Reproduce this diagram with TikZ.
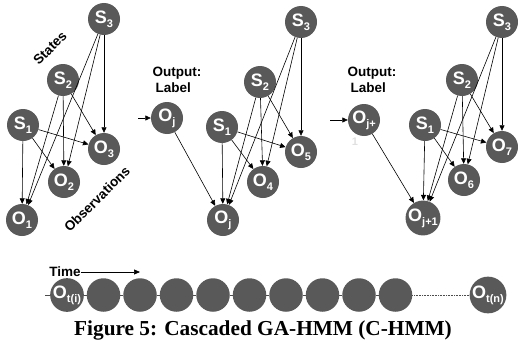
\documentclass[tikz,border=0pt]{standalone}
\usepackage{fontspec}
\setmainfont{Liberation Serif}
\newfontfamily\arialf{Liberation Sans}
\usetikzlibrary{arrows.meta}
\definecolor{nodegray}{HTML}{595959}
\newcommand\lsub[1]{\raisebox{-0.4ex}{\fontsize{11}{11}\selectfont #1}}
\begin{document}
\begin{tikzpicture}[x=1pt,y=-1pt,
  st/.style={circle,fill=nodegray,minimum size=32pt,inner sep=0pt,text=white,
     font=\arialf\bfseries\fontsize{18}{18}\selectfont},
  tn/.style={st,minimum size=33.5pt},
  edge/.style={-{Triangle[length=5.5pt,width=5pt]},line width=0.6pt,black},
  lbl/.style={font=\arialf\bfseries\fontsize{13.5}{16}\selectfont,inner sep=0pt},
  tl/.style={line width=0.6pt,black!70},
]
\useasboundingbox (0,0) rectangle (518,345);

% ---------- left group ----------
\node[st] (S3a) at (104,19) {S\lsub{3}};
\node[st] (S2a) at (63,80) {S\lsub{2}};
\node[st] (S1a) at (23,125) {S\lsub{1}};
\node[st] (O3) at (104,149) {O\lsub{3}};
\node[st] (O2) at (64,182) {O\lsub{2}};
\node[st] (O1) at (22,220) {O\lsub{1}};
\foreach \s in {S1a,S2a,S3a}{\foreach \o in {O1,O2,O3}{\draw[edge] (\s) -- (\o);}}
\node[lbl,rotate=45] (states) at (50,48) {States};
\node[lbl,rotate=45] (obs) at (97,199) {Observations};

% ---------- middle group ----------
\node[lbl,align=left] (out1) at (177,80) {Output:\\\hspace*{3pt}Label};
\node[st] (Ojt) at (167,118) {O\lsub{j}};
\coordinate (in1) at (138,118);
\draw[edge] (in1) -- (Ojt);
\node[st] (S1b) at (222,127) {S\lsub{1}};
\node[st] (S2b) at (260,82) {S\lsub{2}};
\node[st] (S3b) at (301,22) {S\lsub{3}};
\node[st] (O5) at (301,152) {O\lsub{5}};
\node[st] (O4) at (263,182) {O\lsub{4}};
\node[st] (Ojb) at (223,220) {O\lsub{j}};
\foreach \s in {S1b,S2b,S3b}{\foreach \o in {Ojb,O4,O5}{\draw[edge] (\s) -- (\o);}}
\draw[edge] (Ojt) -- (Ojb);

% ---------- right group ----------
\node[lbl,align=left] (out2) at (372,80) {Output:\\\hspace*{3pt}Label};
\node[st] (Okt) at (364,120) {O\lsub{j+}};
\node[font=\arialf\bfseries\fontsize{11}{11}\selectfont,text=black!12,inner sep=0pt] (one) at (355,142) {1};
\coordinate (in2) at (330,120);
\draw[edge] (in2) -- (Okt);
\node[st] (S1c) at (425,125) {S\lsub{1}};
\node[st] (S2c) at (462,80) {S\lsub{2}};
\node[st] (S3c) at (502,22) {S\lsub{3}};
\node[st] (O7) at (502,147) {O\lsub{7}};
\node[st] (O6) at (464,180) {O\lsub{6}};
\node[st] (Okb) at (423,218) {O\lsub{j+1}};
\foreach \s in {S1c,S2c,S3c}{\foreach \o in {Okb,O6,O7}{\draw[edge] (\s) -- (\o);}}
\draw[edge] (Okt) -- (Okb);

% ---------- timeline ----------
\node[lbl] (time) at (65,272) {Time};
\coordinate (tend) at (140,272);
\draw[-{Triangle[length=6pt,width=5pt]},line width=0.7pt] (time.east) -- (tend);
\coordinate (tstart) at (45,295);
\node[tn] (t1) at (67,295) {O\lsub{t(i)}};
\foreach \i/\x in {2/103.5,3/140,4/176.5,5/213,6/249.5,7/286,8/322.5,9/359,10/395.5}{
  \node[tn] (t\i) at (\x,295) {};
}
\node[tn] (tn) at (488,295) {O\lsub{t(n)}};
\draw[tl] (tstart) -- (t1);
\foreach \i [evaluate=\i as \j using int(\i+1)] in {1,...,9}{\draw[tl] (t\i) -- (t\j);}
\draw[tl,densely dotted] (t10) -- (tn);

% ---------- caption ----------
\node[anchor=base,inner sep=0pt,font=\bfseries\fontsize{21.3}{24}\selectfont] (cap) at (263,335) {Figure 5: Cascaded GA-HMM (C-HMM)};
\end{tikzpicture}
\end{document}
